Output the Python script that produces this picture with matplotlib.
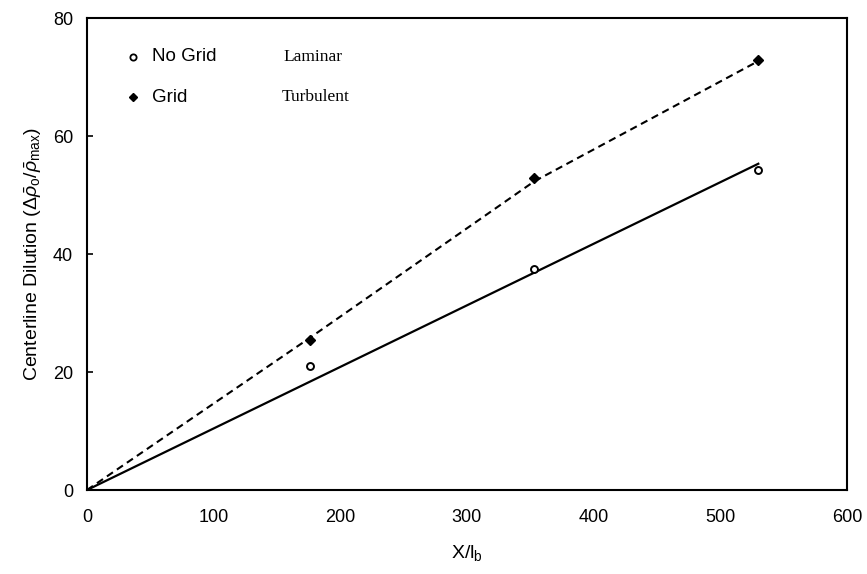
import matplotlib
matplotlib.use("Agg")
import matplotlib.pyplot as plt

# Measured centerline dilution at three downstream stations
x_stations = [176, 353, 530]
no_grid = [21.0, 37.5, 54.2]
grid = [25.5, 52.9, 72.9]

# Fitted curves through the origin
fit_x_laminar = [0, 530]
fit_laminar = [0, 55.3]
fit_x_turbulent = [0, 176, 353, 530]
fit_turbulent = [0, 25.8, 52.3, 72.7]

x_ticks = [0, 100, 200, 300, 400, 500, 600]
y_ticks = [0, 20, 40, 60, 80]

plt.rcParams['font.family'] = ['Liberation Sans', 'DejaVu Sans']
plt.rcParams['mathtext.fontset'] = 'custom'
plt.rcParams['mathtext.rm'] = 'Liberation Sans'
plt.rcParams['mathtext.it'] = 'Liberation Sans:italic'

fig = plt.figure(figsize=(8.67, 5.74), dpi=100)
ax = fig.add_axes([0.1003, 0.1463, 0.8766, 0.8223])

ax.plot(fit_x_laminar, fit_laminar, color='black', lw=1.6, ls='-')
ax.plot(fit_x_turbulent, fit_turbulent, color='black', lw=1.5,
        ls=(0, (3.5, 2.3)))
ax.plot(x_stations, no_grid, ls='none', marker='o', ms=5, mfc='white',
        mec='black', mew=1.4)
ax.plot(x_stations, grid, ls='none', marker='D', ms=5, mfc='black',
        mec='black')

# Key drawn inside the axes with its own markers
ax.plot([36.3], [73.4], ls='none', marker='o', ms=4.5, mfc='white', mec='black', mew=1.3)
ax.plot([36.3], [66.6], ls='none', marker='D', ms=4.5, mfc='black', mec='black')
ax.text(51, 73.4, 'No Grid', fontsize=13.5, va='center', ha='left')
ax.text(51, 66.6, 'Grid', fontsize=13.5, va='center', ha='left')
ax.text(155.5, 73.4, 'Laminar', fontsize=12.5, va='center', ha='left',
        family=['Liberation Serif', 'DejaVu Serif'])
ax.text(154, 66.6, 'Turbulent', fontsize=12.5, va='center', ha='left',
        family=['Liberation Serif', 'DejaVu Serif'])

ax.set_xlim(0, 600)
ax.set_ylim(0, 80)
ax.set_xticks(x_ticks)
ax.set_yticks(y_ticks)
ax.tick_params(axis='both', labelsize=13, direction='in', length=4, width=1.2,
               pad=10)
ax.tick_params(axis='x', length=0, pad=14)
for s in ax.spines.values():
    s.set_linewidth(1.5)

ax.set_xlabel(r'X/l$_\mathrm{b}$', fontsize=14, labelpad=12)
ax.set_ylabel(r'Centerline Dilution ($\Delta\bar{\rho}_\mathrm{o}/\bar{\rho}_\mathrm{max}$)',
              fontsize=14, labelpad=6)

fig.savefig('out.png', dpi=100)
